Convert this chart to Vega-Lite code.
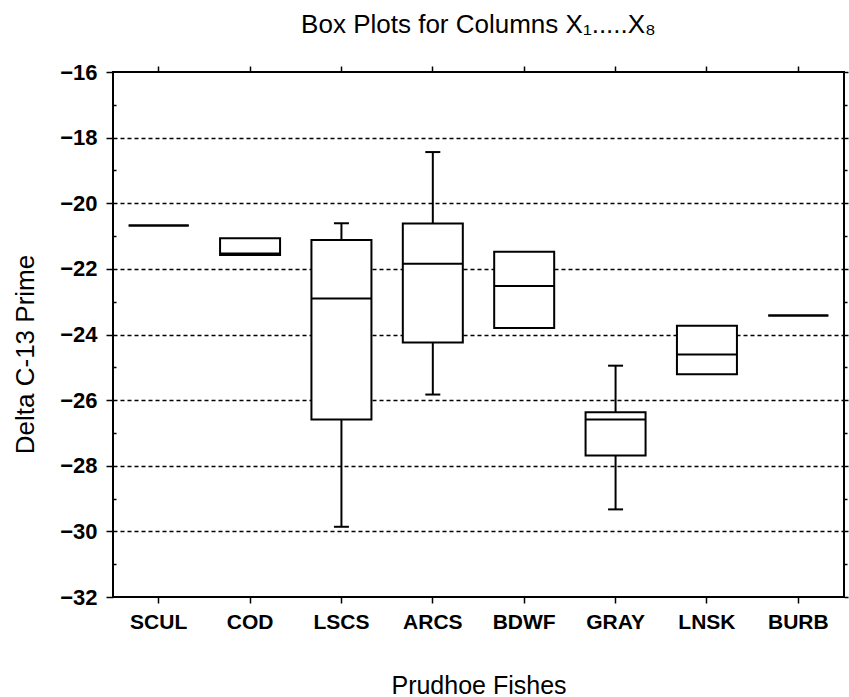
{
  "$schema": "https://vega.github.io/schema/vega-lite/v6.json",
  "autosize": {"type": "none"},
  "padding": {"left": 113, "top": 72, "right": 5, "bottom": 100},
  "width": 731,
  "height": 525,
  "background": "white",
  "title": {
    "text": "Box Plots for Columns X₁.....X₈",
    "font": "Liberation Sans",
    "fontSize": 26,
    "fontWeight": "normal",
    "color": "black",
    "anchor": "middle",
    "baseline": "alphabetic",
    "offset": 2
  },
  "data": {
    "values": [
      {"fish": "SCUL", "min": -20.68, "q1": -20.68, "med": -20.68, "q3": -20.68, "max": -20.68},
      {"fish": "COD", "min": -21.58, "q1": -21.58, "med": -21.53, "q3": -21.07, "max": -21.07},
      {"fish": "LSCS", "min": -29.86, "q1": -26.59, "med": -22.9, "q3": -21.12, "max": -20.61},
      {"fish": "ARCS", "min": -25.83, "q1": -24.24, "med": -21.84, "q3": -20.62, "max": -18.44},
      {"fish": "BDWF", "min": -23.8, "q1": -23.8, "med": -22.52, "q3": -21.48, "max": -21.48},
      {"fish": "GRAY", "min": -29.33, "q1": -27.69, "med": -26.59, "q3": -26.37, "max": -24.95},
      {"fish": "LNSK", "min": -25.21, "q1": -25.21, "med": -24.61, "q3": -23.73, "max": -23.73},
      {"fish": "BURB", "min": -23.42, "q1": -23.42, "med": -23.42, "q3": -23.42, "max": -23.42}
    ]
  },
  "layer": [
    {
      "mark": {"type": "rule", "color": "black", "strokeWidth": 2},
      "encoding": {
        "x": {
          "field": "fish", "type": "nominal", "sort": null,
          "scale": {"paddingInner": 0, "paddingOuter": 0},
          "axis": {
            "orient": "bottom", "title": "Prudhoe Fishes", "labelAngle": 0,
            "domain": false, "tickSize": 6, "tickColor": "black", "tickWidth": 1.5,
            "labelFont": "Liberation Sans", "labelFontSize": 21, "labelFontWeight": "bold", "labelColor": "black", "labelPadding": 8,
            "titleFont": "Liberation Sans", "titleFontSize": 25, "titleFontWeight": "normal", "titleColor": "black",
            "titleY": 76, "titleBaseline": "top"
          }
        },
        "y": {
          "field": "min", "type": "quantitative",
          "scale": {"domain": [-32, -16], "nice": false, "zero": false},
          "axis": {
            "orient": "left", "title": "Delta C-13 Prime",
            "values": [-32, -30, -28, -26, -24, -22, -20, -18, -16],
            "domain": false, "grid": false, "tickSize": 7, "tickColor": "black", "tickWidth": 1.5,
            "labelFont": "Liberation Sans", "labelFontSize": 22, "labelFontWeight": "bold", "labelColor": "black", "labelPadding": 9,
            "titleFont": "Liberation Sans", "titleFontSize": 26, "titleFontWeight": "normal", "titleColor": "black",
            "titleX": -80, "titleY": 282, "titleAngle": 270, "titleAlign": "center", "titleBaseline": "alphabetic"
          }
        },
        "y2": {"field": "q1"}
      }
    },
    {
      "mark": {"type": "rule", "color": "black", "strokeWidth": 2},
      "encoding": {
        "x": {
          "field": "fish", "type": "nominal", "sort": null,
          "axis": {
            "orient": "top", "title": null, "labels": false, "domain": false,
            "tickSize": 6, "tickColor": "black", "tickWidth": 1.5
          }
        },
        "y": {
          "field": "q3", "type": "quantitative",
          "axis": {
            "orient": "right", "title": null, "labels": false, "domain": false, "grid": false,
            "values": [-32, -30, -28, -26, -24, -22, -20, -18, -16],
            "tickSize": 4, "tickColor": "black", "tickWidth": 1.5
          }
        },
        "y2": {"field": "max"}
      }
    },
    {
      "mark": {"type": "bar", "width": 60, "fill": "white", "stroke": "black", "strokeWidth": 2},
      "encoding": {
        "x": {"field": "fish", "type": "nominal", "sort": null, "axis": null},
        "y": {
          "field": "q1", "type": "quantitative",
          "axis": {
            "orient": "left", "title": null, "labels": false, "domain": false, "grid": false,
            "values": [-31, -29, -27, -25, -23, -21, -19, -17],
            "tickSize": -3, "tickColor": "black", "tickWidth": 1.5
          }
        },
        "y2": {"field": "q3"}
      }
    },
    {
      "mark": {"type": "tick", "orient": "horizontal", "size": 60, "thickness": 2, "color": "black", "opacity": 1},
      "encoding": {
        "x": {"field": "fish", "type": "nominal", "sort": null, "axis": null},
        "y": {
          "field": "med", "type": "quantitative",
          "axis": {
            "orient": "left", "title": null, "labels": false, "domain": false, "ticks": false,
            "values": [-30, -28, -26, -24, -22, -20, -18],
            "grid": true, "gridColor": "black", "gridWidth": 1.3, "gridDash": [4, 3], "gridOpacity": 1
          }
        }
      }
    },
    {
      "transform": [{"filter": "datum.min < datum.q1"}],
      "mark": {"type": "tick", "orient": "horizontal", "size": 15, "thickness": 2, "color": "black", "opacity": 1},
      "encoding": {
        "x": {"field": "fish", "type": "nominal", "sort": null, "axis": null},
        "y": {
          "field": "min", "type": "quantitative",
          "axis": {
            "orient": "right", "title": null, "labels": false, "domain": false, "grid": false,
            "values": [-31, -29, -27, -25, -23, -21, -19, -17],
            "tickSize": 3, "tickColor": "black", "tickWidth": 1.5
          }
        }
      }
    },
    {
      "transform": [{"filter": "datum.max > datum.q3"}],
      "mark": {"type": "tick", "orient": "horizontal", "size": 15, "thickness": 2, "color": "black", "opacity": 1},
      "encoding": {
        "x": {"field": "fish", "type": "nominal", "sort": null, "axis": null},
        "y": {"field": "max", "type": "quantitative", "axis": null}
      }
    }
  ],
  "resolve": {"axis": {"x": "independent", "y": "independent"}},
  "config": {
    "view": {"stroke": "black", "strokeWidth": 2}
  }
}
